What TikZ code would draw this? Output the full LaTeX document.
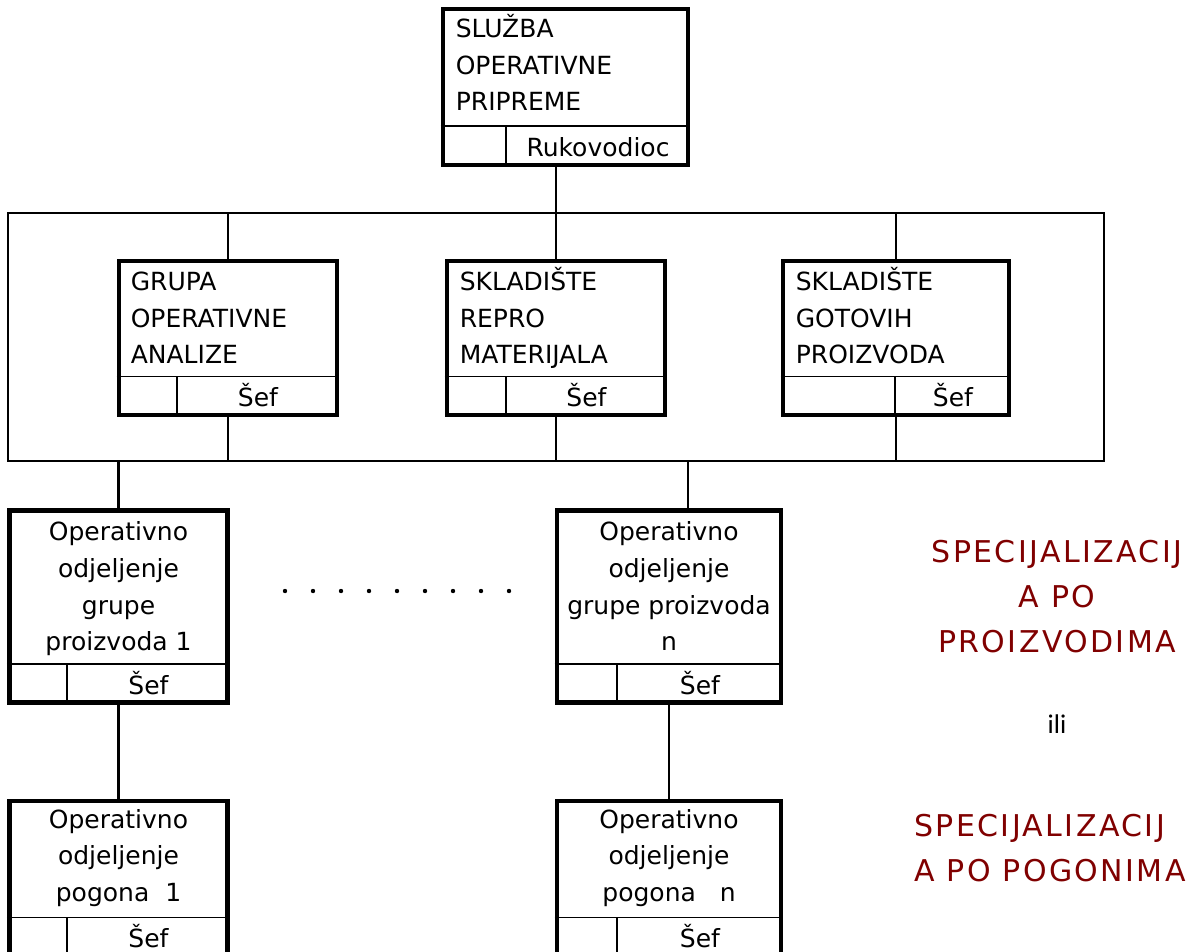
\documentclass[tikz,border=0pt]{standalone}
\usepackage{fontspec}
\setmainfont{DejaVu Sans}
\newfontfamily\remarkfont[LetterSpace=8]{DejaVu Sans}
\newfontfamily\orfont{Carlito}
\usetikzlibrary{calc,positioning}
\definecolor{remarkRed}{HTML}{800000}

% bottom strip of a unit: rule, split and the title of its head
\newcommand{\chiefrow}[3]{%
  \coordinate (#1-hw) at ($(#1.south west)+(0,-41)$);
  \coordinate (#1-he) at ($(#1.south east)+(0,-41)$);
  \coordinate (#1-split) at ($(#1-hw)+(#2,0)$);
  \draw[rule] (#1-hw) -- (#1-he);
  \draw[rule] (#1-split) -- (#1-split |- #1.south);
  \node[chief, anchor=base] (#1-chief) at ($(#1-split)!0.5!(#1-he)+(0,30)$) {#3};
}

\begin{document}
\begin{tikzpicture}[x=1pt, y=-1pt,
  frame/.style={draw, line width=4.8pt, inner sep=0pt},
  rule/.style={line width=1.8pt},
  link/.style={line width=2.1pt},
  body/.style={font=\fontsize{25}{36.5}\selectfont, inner sep=0pt, align=left},
  bodyc/.style={font=\fontsize{25}{36.8}\selectfont, inner sep=0pt, align=center},
  chief/.style={font=\fontsize{25}{28}\selectfont, inner sep=0pt},
  remark/.style={text=remarkRed, font=\remarkfont\fontsize{30}{45}\selectfont, inner sep=0pt},
]
\useasboundingbox (0,0) rectangle (1204,952);

% head of the service (text nodes sit on their last baseline)
\node[frame, minimum width=245pt, minimum height=156pt] (sluzba) at (565.5,87) {};
\node[body, anchor=base west] (sluzba-name) at ($(sluzba.north west)+(15,104)$) {SLUŽBA\\OPERATIVNE\\PRIPREME};
\chiefrow{sluzba}{65}{Rukovodioc}

% staff units
\node[frame, minimum width=218pt, minimum height=154pt] (grupa) at (228,338) {};
\node[body, anchor=base west] (grupa-name) at ($(grupa.north west)+(14,105)$) {GRUPA\\OPERATIVNE\\ANALIZE};
\chiefrow{grupa}{60}{Šef}

\node[frame, minimum width=218pt, minimum height=154pt] (repro) at (556,338) {};
\node[body, anchor=base west] (repro-name) at ($(repro.north west)+(15,105)$) {SKLADIŠTE\\REPRO\\MATERIJALA};
\chiefrow{repro}{61}{Šef}

\node[frame, minimum width=226pt, minimum height=154pt] (gotovih) at (896,338) {};
\node[body, anchor=base west] (gotovih-name) at ($(gotovih.north west)+(15,105)$) {SKLADIŠTE\\GOTOVIH\\PROIZVODA};
\chiefrow{gotovih}{114}{Šef}

% bus
\coordinate (busNW) at (8,213);
\coordinate (busSE) at (1104,461);
\draw[link] (busNW) rectangle (busSE);

% operative departments
\node[frame, minimum width=218.5pt, minimum height=192.5pt] (odjel1) at (118.5,606.5) {};
\node[bodyc, anchor=base] (odjel1-name) at ($(odjel1.north)+(0,143)$) {Operativno\\odjeljenje\\grupe\\proizvoda 1};
\chiefrow{odjel1}{60}{Šef}

\node[frame, minimum width=224pt, minimum height=192.5pt] (odjeln) at (669,606.5) {};
\node[bodyc, anchor=base] (odjeln-name) at ($(odjeln.north)+(0,143)$) {Operativno\\odjeljenje\\grupe proizvoda\\n};
\chiefrow{odjeln}{62}{Šef}

\foreach \k in {0,...,8}
  \fill (285+28*\k,591) circle (2.2pt);

\node[frame, minimum width=218.5pt, minimum height=155pt] (pogon1) at (118.5,878.5) {};
\node[bodyc, anchor=base] (pogon1-name) at ($(pogon1.north)+(0,103)$) {Operativno\\odjeljenje\\pogona~~1};
\chiefrow{pogon1}{60}{Šef}

\node[frame, minimum width=224pt, minimum height=155pt] (pogonn) at (669,878.5) {};
\node[bodyc, anchor=base] (pogonn-name) at ($(pogonn.north)+(0,103)$) {Operativno\\odjeljenje\\pogona~~~n};
\chiefrow{pogonn}{62}{Šef}

% connectors
\draw[link] (repro.north |- sluzba.south) -- (repro.north);
\draw[link] (grupa.north) -- (grupa.north |- busNW);
\draw[link] (gotovih.north) -- (gotovih.north |- busNW);
\draw[link] (grupa.south) -- (grupa.south |- busSE);
\draw[link] (repro.south) -- (repro.south |- busSE);
\draw[link] (gotovih.south) -- (gotovih.south |- busSE);
\draw[link] (odjel1.north) -- (odjel1.north |- busSE);
\coordinate (odjeln-top) at ($(odjeln.north)+(19,0)$);
\draw[link] (odjeln-top) -- (odjeln-top |- busSE);
\draw[link] (odjel1.south) -- (pogon1.north);
\draw[link] (odjeln.south) -- (pogonn.north);

% remarks
\node[remark, align=center, anchor=base] (byproduct) at (1057,652) {SPECIJALIZACIJ\\A PO\\PROIZVODIMA};
\node[font=\orfont\fontsize{27}{30}\selectfont, inner sep=0pt, anchor=base] (ili) at (1057,733) {ili};
\node[remark, align=left, anchor=base west] (byplant) at (914,881) {SPECIJALIZACIJ\\A PO POGONIMA};
\end{tikzpicture}
\end{document}
